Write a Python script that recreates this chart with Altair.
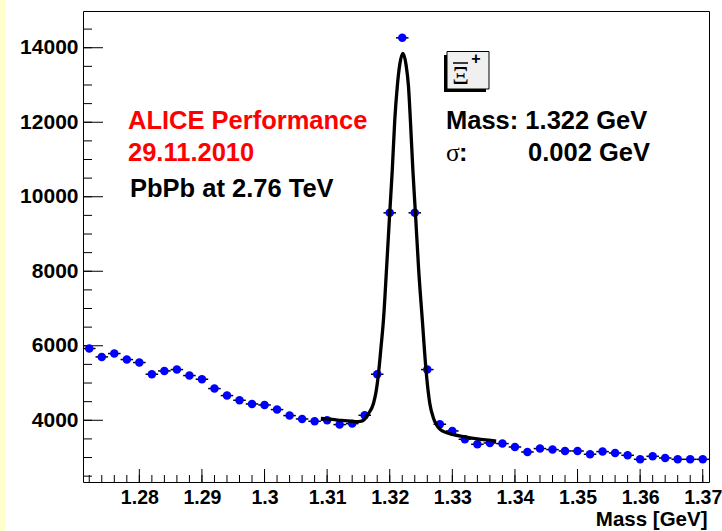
import altair as alt
import pandas as pd

# ---- data ----
mass = [1.272, 1.274, 1.276, 1.278, 1.280, 1.282, 1.284, 1.286, 1.288, 1.290,
        1.292, 1.294, 1.296, 1.298, 1.300, 1.302, 1.304, 1.306, 1.308, 1.310,
        1.312, 1.314, 1.316, 1.318, 1.320, 1.322, 1.324, 1.326, 1.328, 1.330,
        1.332, 1.334, 1.336, 1.338, 1.340, 1.342, 1.344, 1.346, 1.348, 1.350,
        1.352, 1.354, 1.356, 1.358, 1.360, 1.362, 1.364, 1.366, 1.368, 1.370]
counts = [5926, 5701, 5791, 5630, 5550, 5236, 5325, 5361, 5200, 5101,
          4851, 4663, 4537, 4438, 4411, 4287, 4126, 4035, 3973, 4000,
          3884, 3910, 4134, 5236, 9568, 14265, 9568, 5361, 3893, 3713,
          3490, 3355, 3390, 3374, 3283, 3149, 3240, 3213, 3176, 3176,
          3087, 3159, 3122, 3060, 2952, 3033, 2988, 2952, 2952, 2952]
half_bin = 0.001

fit_mass = [1.3090, 1.3100, 1.3120, 1.3140, 1.3150, 1.3155, 1.3160, 1.3166, 1.3174,
            1.3178, 1.3182, 1.3186, 1.3190, 1.3195, 1.3200, 1.3204, 1.3208, 1.3212,
            1.3216, 1.3221, 1.3226, 1.3230, 1.3233, 1.3237, 1.3241, 1.3246, 1.3252,
            1.3258, 1.3264, 1.3270, 1.3275, 1.3280, 1.3290, 1.3300, 1.3320, 1.3340,
            1.3360, 1.3370]
fit_counts = [4050, 4040, 4000, 3970, 3965, 3975, 4030, 4180, 4450,
              4750, 5250, 5950, 6700, 8100, 9570, 10700, 12050, 12950,
              13550, 13850, 13550, 12950, 12050, 10700, 9570, 8100, 6700,
              5340, 4450, 4050, 3870, 3760, 3670, 3620, 3555, 3500,
              3460, 3440]

x_major = [1.28, 1.29, 1.30, 1.31, 1.32, 1.33, 1.34, 1.35, 1.36, 1.37]
x_minor = [round(1.272 + 0.002 * i, 3) for i in range(50)]
y_major = [4000, 6000, 8000, 10000, 12000, 14000]
y_minor = [2500 + 500 * i for i in range(25)]

x_domain = [1.271, 1.371]
y_domain = [2343, 14986]

W, H = 626, 471
SANS = "Liberation Sans"

pts = pd.DataFrame({"m": mass, "c": counts,
                    "lo": [m - half_bin for m in mass],
                    "hi": [m + half_bin for m in mass]})
fit = pd.DataFrame({"m": fit_mass, "c": fit_counts})
xmaj = pd.DataFrame({"v": x_major})
xmin = pd.DataFrame({"v": x_minor})
ymaj = pd.DataFrame({"v": y_major})
ymin = pd.DataFrame({"v": y_minor})
one = pd.DataFrame({"a": [0]})

xs = alt.Scale(domain=x_domain, nice=False, zero=False)
ys = alt.Scale(domain=y_domain, nice=False, zero=False)

x_axis = alt.Axis(values=x_major, labelExpr="format(datum.value, '.2~f')",
                  ticks=False, tickSize=0, domain=False, grid=False,
                  labelFont=SANS, labelFontSize=19.5, labelFontWeight="bold",
                  labelColor="black", labelPadding=15, labelBaseline="middle",
                  labelFlush=False, labelOverlap=False, labelBound=False,
                  title="Mass [GeV]", titleFont=SANS, titleFontSize=20.5,
                  titleFontWeight="bold", titleColor="black", titleAnchor="end",
                  titleAlign="right", titleBaseline="middle", titleX=624, titleY=37)
y_axis = alt.Axis(values=y_major, format="d", ticks=False, tickSize=0,
                  domain=False, grid=False, labelFont=SANS, labelFontSize=21,
                  labelFontWeight="bold", labelColor="black", labelPadding=5,
                  labelFlush=False, labelOverlap=False, title=None)

# error bars (bin width)
errs = alt.Chart(pts).mark_rule(color="black", strokeWidth=1.5).encode(
    x=alt.X("lo:Q", scale=xs, axis=x_axis), x2="hi:Q",
    y=alt.Y("c:Q", scale=ys, axis=y_axis))

dots = alt.Chart(pts).mark_point(filled=True, shape="circle", size=72,
                                 color="#0000ff", opacity=1).encode(
    x=alt.X("m:Q", scale=xs), y=alt.Y("c:Q", scale=ys))

curve = alt.Chart(fit).mark_line(color="black", strokeWidth=3.3,
                                 interpolate="monotone").encode(
    x=alt.X("m:Q", scale=xs), y=alt.Y("c:Q", scale=ys))

# inward ticks
def xticks(df, length):
    return alt.Chart(df).mark_rule(color="black", strokeWidth=1).encode(
        x=alt.X("v:Q", scale=xs), y=alt.value(H), y2=alt.value(H - length))

def yticks(df, length):
    return alt.Chart(df).mark_rule(color="black", strokeWidth=1).encode(
        y=alt.Y("v:Q", scale=ys), x=alt.value(0), x2=alt.value(length))

def label(text, x, y, color="black", size=25.5, font=SANS, weight="bold"):
    return alt.Chart(one).mark_text(text=text, align="left", baseline="alphabetic",
                                    font=font, fontSize=size, fontWeight=weight,
                                    color=color).encode(
        x=alt.value(x), y=alt.value(y))

strip = alt.Chart(one).mark_rect(color="#ffffcc").encode(
    x=alt.value(-83), x2=alt.value(-78), y=alt.value(-11), y2=alt.value(520))

shadow = alt.Chart(one).mark_rect(color="black").encode(
    x=alt.value(361), x2=alt.value(403), y=alt.value(44), y2=alt.value(81))
box = alt.Chart(one).mark_rect(fill="#f0f0f0", stroke="black", strokeWidth=1).encode(
    x=alt.value(364), x2=alt.value(406), y=alt.value(40.5), y2=alt.value(78))
xi = alt.Chart(one).mark_text(text="Ξ", align="center", baseline="alphabetic",
                              font="Liberation Serif", fontSize=26, color="black").encode(
    x=alt.value(377.5), y=alt.value(73))
xi_bar = alt.Chart(one).mark_rule(color="black", strokeWidth=1.5).encode(
    x=alt.value(370), x2=alt.value(385), y=alt.value(52))
xi_plus = alt.Chart(one).mark_text(text="+", align="center", baseline="middle",
                                   font=SANS, fontSize=16, fontWeight="bold",
                                   color="black").encode(
    x=alt.value(393), y=alt.value(48))

chart = alt.layer(
    strip,
    xticks(xmin, 7), xticks(xmaj, 13), yticks(ymin, 9), yticks(ymaj, 20),
    errs, dots, curve,
    label("ALICE Performance", 45, 118, color="#ff0000"),
    label("29.11.2010", 45, 150, color="#ff0000"),
    label("PbPb at 2.76 TeV", 47, 186),
    label("Mass: 1.322 GeV", 363, 118),
    label("σ", 363, 150, font="Liberation Serif", weight="normal"),
    label(":", 376, 150),
    label("0.002 GeV", 445, 150),
    shadow, box, xi, xi_bar, xi_plus,
).properties(
    width=W, height=H,
    autosize=alt.AutoSizeParams(type="none"),
    padding={"left": 83, "top": 11, "right": 13, "bottom": 49},
    background="white",
).configure_view(stroke="black", strokeWidth=1, fill="white")

chart.save("out.html", embed_options={"renderer": "svg", "actions": False})
